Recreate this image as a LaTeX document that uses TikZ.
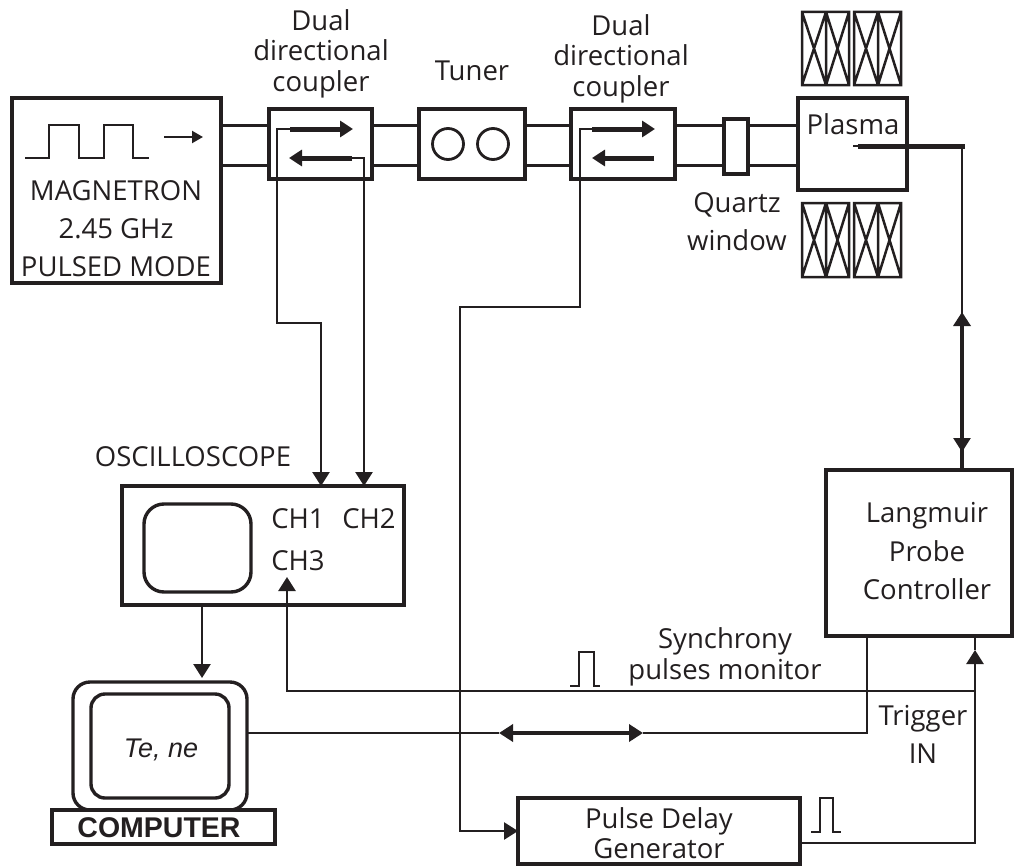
\documentclass[tikz,border=0pt]{standalone}
\usepackage{fontspec}
\setmainfont{Open Sans}
\newfontfamily\helv{Liberation Sans}
\usetikzlibrary{arrows.meta,calc}
\newcommand{\lblfont}{\fontsize{27.5}{32}\selectfont}
\tikzset{
  thick box/.style={draw=ink,line width=4pt,outer sep=0pt,inner sep=0pt,rectangle},
  guide/.style={draw=ink,line width=3pt},
  wire/.style={draw=ink,line width=2.6pt},
  heavy/.style={draw=ink,line width=5pt},
  tipped/.style={-{Triangle[length=14pt,width=17pt,fill=ink]}},
  lbl/.style={anchor=base,inner sep=0pt,font=\lblfont,text=ink},
  coil/.style={draw=ink,line width=2.5pt},
}
\definecolor{ink}{RGB}{35,31,32}
\newcommand{\boxat}[6]{\node[#1,minimum width={(#5-#3)*1pt},minimum height={(#6-#4)*1pt}] (#2) at ({(#3+#5)/2},{(#4+#6)/2}) {};}
\newcommand{\coilpair}[3]{%
 \draw[coil] (#1,#2) rectangle (#1+47,#3) (#1+24,#2) -- (#1+24,#3)
  (#1,#2) -- (#1+24,#3) (#1+24,#2) -- (#1,#3)
  (#1+24,#2) -- (#1+47,#3) (#1+47,#2) -- (#1+24,#3);
}
\begin{document}
\begin{tikzpicture}[x=1pt,y=-1pt]
\useasboundingbox (0,0) rectangle (1014,867);
% boxes
\boxat{thick box}{mag}{12}{98}{221}{283}
\boxat{thick box}{cpa}{269}{109}{372}{179}
\boxat{thick box}{tun}{419}{109}{525}{179}
\boxat{thick box}{cpb}{571}{109}{675}{179}
\boxat{thick box}{win}{724}{119}{748}{174}
\boxat{thick box}{pla}{798}{98}{907}{190}
\boxat{thick box}{osc}{122}{486}{404}{605}
\boxat{thick box}{lpc}{826}{470}{1012}{636}
\boxat{thick box}{pdg}{518}{798}{800}{864}
\boxat{thick box}{base}{52}{810}{275}{844}
\node[draw=ink,line width=3.4pt,rounded corners=17pt,minimum width=174pt,minimum height=128pt,outer sep=0pt,inner sep=0pt] (comp) at (160,746) {};
\node[draw=ink,line width=3.4pt,rounded corners=14pt,minimum width=138pt,minimum height=104pt,outer sep=0pt,inner sep=0pt] (cscr) at (160,746) {};
\node[draw=ink,line width=3.4pt,rounded corners=20pt,minimum width=107pt,minimum height=88pt,outer sep=0pt,inner sep=0pt] (oscr) at (197.5,548) {};
\node[draw=ink,line width=2.8pt,circle,minimum size=31pt,inner sep=0pt,outer sep=0pt] (c1) at (448,144) {};
\node[draw=ink,line width=2.8pt,circle,minimum size=31pt,inner sep=0pt,outer sep=0pt] (c2) at (493,144) {};
% waveguide rails
\coordinate (rt) at (0,125);
\coordinate (rb) at (0,165);
\foreach \a/\b in {mag/cpa,cpa/tun,tun/cpb,cpb/win,win/pla}{
  \draw[guide] (\a.east |- rt) -- (\b.west |- rt);
  \draw[guide] (\a.east |- rb) -- (\b.west |- rb);
}
% coils
\coilpair{802}{12}{85}
\coilpair{854}{12}{85}
\coilpair{802}{203}{277}
\coilpair{854}{203}{277}
% magnetron pulses and arrow
\draw[draw=ink,line width=2.5pt] (25,158) -- (49,158) -- (49,125) -- (79,125) -- (79,158) -- (104,158) -- (104,125) -- (133,125) -- (133,158) -- (149,158);
\coordinate (ma) at (164,137);
\coordinate (mb) at (203,137);
\draw[draw=ink,line width=2.2pt,-{Triangle[length=11pt,width=12pt,fill=ink]}] (ma) -- (mb);
% coupler arrows
\coordinate (a1s) at (290,129); \coordinate (a1e) at (353,129);
\coordinate (a2s) at (352,158); \coordinate (a2e) at (289,158);
\coordinate (b1s) at (592,129); \coordinate (b1e) at (655,129);
\coordinate (b2s) at (654,158); \coordinate (b2e) at (592,158);
\foreach \s/\e in {a1s/a1e,a2s/a2e,b1s/b1e,b2s/b2e}
  \draw[heavy,-{Triangle[length=13pt,width=16pt,fill=ink]}] (\s) -- (\e);
% coupler 1 taps
\coordinate (ch1in) at (321,486);
\coordinate (ch2in) at (364,486);
\draw[wire,tipped] (a1s) -- (277,129) -- (277,323) -- (321,323) -- (ch1in);
\draw[wire,tipped] (a2s) -- (364,158) -- (ch2in);
% coupler 2 tap to pulse generator
\draw[wire] (b1s) -- (580,129) -- (580,307) -- (460,307) -- (460,831) -- (518,831);
\draw[wire,tipped] (460,831) -- (pdg.west |- 0,831);
% probe
\coordinate (ptip) at (853,146);
\coordinate (pk) at (962,146);
\coordinate (pd) at (962,452);
\coordinate (pu) at (962,312);
\draw[draw=ink,line width=2pt] (ptip) -- (862,146);
\draw[heavy,line cap=rect] (860,146) -- (pk);
\draw[wire,tipped] (pk) -- (pd);
\draw[draw=ink,line width=3.4pt,tipped] (lpc.north -| pk) -- (pu);
% scope to computer
\draw[wire,tipped] (osc.south -| 202,0) -- (202,678);
% synchrony line
\coordinate (ch3) at (287,577);
\draw[wire,tipped] (975,691) -- (287,691) -- (ch3);
% trigger
\coordinate (trig) at (975,650);
\draw[wire] (pdg.east |- 0,843) -- (975,843) -- (975,691);
\draw[wire,tipped] (975,691) -- (trig);
\draw[wire] (trig) -- (lpc.south -| trig);
% computer link
\coordinate (la) at (499,733);
\coordinate (lb) at (643,733);
\draw[wire] (comp.east |- la) -- (la);
\draw[draw=ink,line width=3.5pt,{Triangle[length=14pt,width=17pt,fill=ink]}-{Triangle[length=14pt,width=17pt,fill=ink]}] (la) -- (lb);
\draw[wire] (lb) -- (867,733) -- (lpc.south -| 867,0);
% pulse icons
\draw[draw=ink,line width=2.5pt] (570,686) -- (579,686) -- (579,652) -- (594,652) -- (594,686) -- (600,686);
\draw[draw=ink,line width=2.5pt] (811,832) -- (820,832) -- (820,798) -- (833,798) -- (833,832) -- (841,832);
% labels
\node[lbl] (t1) at (321,31) {Dual};
\node[lbl] (t2) at (321,61) {directional};
\node[lbl] (t3) at (321,91) {coupler};
\node[lbl] (t4) at (472,80) {Tuner};
\node[lbl] (t5) at (621,36) {Dual};
\node[lbl] (t6) at (621,66) {directional};
\node[lbl] (t7) at (621,96) {coupler};
\node[lbl] (t8) at (737,212) {Quartz};
\node[lbl] (t9) at (737,250) {window};
\node[lbl] (t10) at (853,134) {Plasma};
\node[lbl] (t11) at (116,200) {MAGNETRON};
\node[lbl] (t12) at (116,238) {2.45 GHz};
\node[lbl] (t13) at (116,276) {PULSED MODE};
\node[lbl] (t14) at (193,466) {OSCILLOSCOPE};
\node[lbl] (t15) at (298,528) {CH1};
\node[lbl] (t16) at (369,528) {CH2};
\node[lbl] (t17) at (298,570) {CH3};
\node[lbl] (t18) at (927,522) {Langmuir};
\node[lbl] (t19) at (927,561) {Probe};
\node[lbl] (t20) at (927,599) {Controller};
\node[lbl] (t21) at (725,648) {Synchrony};
\node[lbl] (t22) at (725,679) {pulses monitor};
\node[lbl] (t23) at (923,725) {Trigger};
\node[lbl] (t24) at (923,763) {IN};
\node[lbl] (t25) at (659,828) {Pulse Delay};
\node[lbl] (t26) at (659,858) {Generator};
\node[anchor=base,inner sep=0pt,text=ink,font={\helv\itshape\fontsize{27}{30}\selectfont}] (t27) at (161,757) {Te, ne};
\node[anchor=base,inner sep=0pt,text=ink,font={\helv\bfseries\fontsize{28.5}{30}\selectfont}] (t28) at (159,837) {COMPUTER};
\end{tikzpicture}
\end{document}
